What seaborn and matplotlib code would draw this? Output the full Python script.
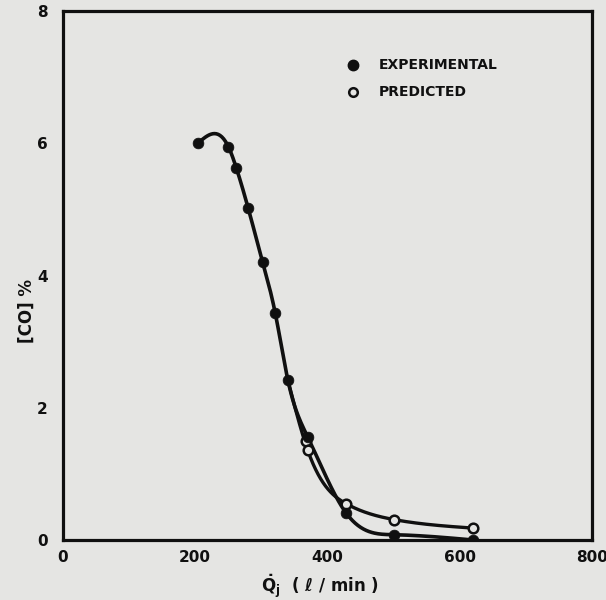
import numpy as np
import pandas as pd
import seaborn as sns
import matplotlib
matplotlib.use("Agg")
import matplotlib.pyplot as plt

# ---- data ----
exp_x = [204, 250, 262, 280, 302, 321, 340, 370, 428, 500, 620]
exp_y = [6.00, 5.95, 5.63, 5.02, 4.20, 3.43, 2.42, 1.56, 0.41, 0.08, 0.00]
pred_x = [368, 370, 428, 500, 620]
pred_y = [1.49, 1.36, 0.55, 0.31, 0.18]
x_ticks = [0, 200, 400, 600, 800]
y_ticks = [0, 2, 4, 6, 8]
legend_labels = ["EXPERIMENTAL", "PREDICTED"]

BG = "#e5e5e3"
INK = "#101010"

sns.set_theme(style="white")
plt.rcParams["font.family"] = ["DejaVu Sans"]
plt.rcParams["mathtext.fontset"] = "dejavusans"
plt.rcParams["mathtext.default"] = "bf"


def natural_spline(xs, ys, n=300):
    """Natural cubic spline y(x) through the points (for drawing a smooth curve)."""
    x = np.asarray(xs, float) / 100.0
    y = np.asarray(ys, float)
    k = len(x)
    h = np.diff(x)
    A = np.zeros((k, k))
    r = np.zeros(k)
    A[0, 0] = A[-1, -1] = 1.0
    for i in range(1, k - 1):
        A[i, i - 1] = h[i - 1]
        A[i, i] = 2 * (h[i - 1] + h[i])
        A[i, i + 1] = h[i]
        r[i] = 6 * ((y[i + 1] - y[i]) / h[i] - (y[i] - y[i - 1]) / h[i - 1])
    M = np.linalg.solve(A, r)
    xx = np.linspace(x[0], x[-1], n)
    idx = np.clip(np.searchsorted(x, xx) - 1, 0, k - 2)
    x0, x1 = x[idx], x[idx + 1]
    hh = x1 - x0
    yy = (M[idx] * (x1 - xx) ** 3 / (6 * hh) + M[idx + 1] * (xx - x0) ** 3 / (6 * hh)
          + (y[idx] / hh - M[idx] * hh / 6) * (x1 - xx)
          + (y[idx + 1] / hh - M[idx + 1] * hh / 6) * (xx - x0))
    return xx * 100.0, yy


fig = plt.figure(figsize=(6.06, 6.0), dpi=100, facecolor=BG)
ax = fig.add_axes([63 / 606, (600 - 540) / 600, 529 / 606, 529 / 600])
ax.set_facecolor(BG)

df_exp = pd.DataFrame({"Q": exp_x, "CO": exp_y})
df_pred = pd.DataFrame({"Q": pred_x, "CO": pred_y})

# smooth curves
cx, cy = natural_spline(exp_x, exp_y)
ax.plot(cx, np.maximum(cy, -0.01), color=INK, lw=2.6, solid_capstyle="round", zorder=3)
px, py = natural_spline([exp_x[6]] + pred_x[1:], [exp_y[6]] + pred_y[1:])
ax.plot(px, py, color=INK, lw=2.4, solid_capstyle="round", zorder=2)

# markers
sns.scatterplot(data=df_pred, x="Q", y="CO", ax=ax, marker="o", s=48,
                facecolor=BG, edgecolor=INK, linewidth=1.8, zorder=4, legend=False)
sns.scatterplot(data=df_exp, x="Q", y="CO", ax=ax, marker="o", s=60,
                color=INK, edgecolor=INK, linewidth=0.5, zorder=5, legend=False)

ax.set_xlim(0, 800)
ax.set_ylim(0, 8)
ax.set_xticks(x_ticks)
ax.set_yticks(y_ticks)
ax.set_xticklabels([str(v) for v in x_ticks], fontsize=11, fontweight="bold", color=INK)
ax.set_yticklabels([str(v) for v in y_ticks], fontsize=11, fontweight="bold", color=INK)
ax.tick_params(axis="x", direction="in", length=9.5, width=2.0, color=INK, pad=7)
ax.tick_params(axis="y", direction="in", length=9.5, width=2.0, color=INK, pad=11)
for s in ax.spines.values():
    s.set_visible(True)
    s.set_color(INK)
    s.set_linewidth(2.3)

ax.set_xlabel(r"$\dot{Q}_j$  ( ℓ / min )", fontsize=12, fontweight="bold", color=INK)
ax.set_ylabel("[CO] %", fontsize=12, fontweight="bold", color=INK)
ax.xaxis.set_label_coords(0.486, -0.062)
ax.yaxis.set_label_coords(-0.052, 0.433)

# legend drawn by hand
ax.plot([0.548], [0.898], "o", transform=ax.transAxes, ms=7.5, color=INK, clip_on=False)
ax.plot([0.548], [0.847], "o", transform=ax.transAxes, ms=6.2, mfc=BG, mec=INK, mew=1.8, clip_on=False)
ax.text(0.597, 0.898, legend_labels[0], transform=ax.transAxes, fontsize=10,
        fontweight="bold", color=INK, va="center", ha="left")
ax.text(0.597, 0.847, legend_labels[1], transform=ax.transAxes, fontsize=10,
        fontweight="bold", color=INK, va="center", ha="left")

fig.savefig("out.png", dpi=100, facecolor=BG)
